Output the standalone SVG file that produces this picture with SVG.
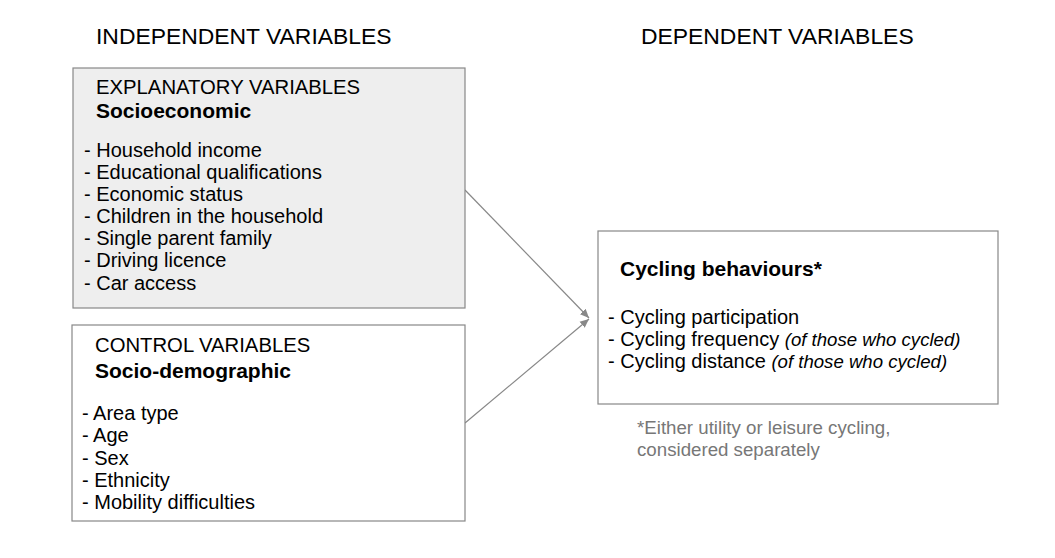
<svg xmlns="http://www.w3.org/2000/svg" width="1055" height="558" viewBox="0 0 1055 558">
<style>
text{font-family:"Liberation Sans",Arial,sans-serif;fill:#000}
.h{font-size:22.9px}
.s{font-size:20.3px}
.t{font-size:20px}
.b{font-size:21px;font-weight:bold}
.i{font-style:italic;font-size:18.6px}
.n{font-size:18.7px;fill:#777}
.box{stroke:#888;stroke-width:1.2}
.c{stroke:#888;stroke-width:1.2;fill:none}
</style>
<defs>
<marker id="ah" markerWidth="10" markerHeight="10" refX="9" refY="5" orient="auto" markerUnits="userSpaceOnUse">
<path d="M0,1 L9,5 L0,9 Z" fill="#888"/>
</marker>
</defs>
<rect width="1055" height="558" fill="#fff"/>
<text class="h" x="96" y="44">INDEPENDENT VARIABLES</text>
<text class="h" x="641" y="44">DEPENDENT VARIABLES</text>
<g id="connectors">
<line class="c" x1="465" y1="190" x2="589" y2="318" marker-end="url(#ah)"/>
<line class="c" x1="465" y1="423" x2="589" y2="319" marker-end="url(#ah)"/>
</g>
<g id="explanatory">
<rect class="box" x="73" y="68" width="392" height="240" fill="#eeeeee"/>
<text class="s" x="96" y="94">EXPLANATORY VARIABLES</text>
<text class="b" x="96" y="118">Socioeconomic</text>
<text class="t" x="84" y="157">- Household income</text>
<text class="t" x="84" y="179">- Educational qualifications</text>
<text class="t" x="84" y="201">- Economic status</text>
<text class="t" x="84" y="223">- Children in the household</text>
<text class="t" x="84" y="245">- Single parent family</text>
<text class="t" x="84" y="267">- Driving licence</text>
<text class="t" x="84" y="290">- Car access</text>
</g>
<g id="control">
<rect class="box" x="72" y="325" width="393" height="196" fill="#fff"/>
<text class="s" x="95" y="352">CONTROL VARIABLES</text>
<text class="b" x="95" y="378">Socio-demographic</text>
<text class="t" x="82" y="420">- Area type</text>
<text class="t" x="82" y="442">- Age</text>
<text class="t" x="82" y="465">- Sex</text>
<text class="t" x="82" y="487">- Ethnicity</text>
<text class="t" x="82" y="509">- Mobility difficulties</text>
</g>
<g id="cycling">
<rect class="box" x="598" y="231" width="400" height="173" fill="#fff"/>
<text class="b" x="620" y="276">Cycling behaviours*</text>
<text class="t" x="608" y="324">- Cycling participation</text>
<text class="t" x="608" y="346">- Cycling frequency <tspan class="i">(of those who cycled)</tspan></text>
<text class="t" x="608" y="368">- Cycling distance <tspan class="i">(of those who cycled)</tspan></text>
</g>
<g id="note">
<text class="n" x="637" y="434">*Either utility or leisure cycling,</text>
<text class="n" x="637" y="456">considered separately</text>
</g>
</svg>
